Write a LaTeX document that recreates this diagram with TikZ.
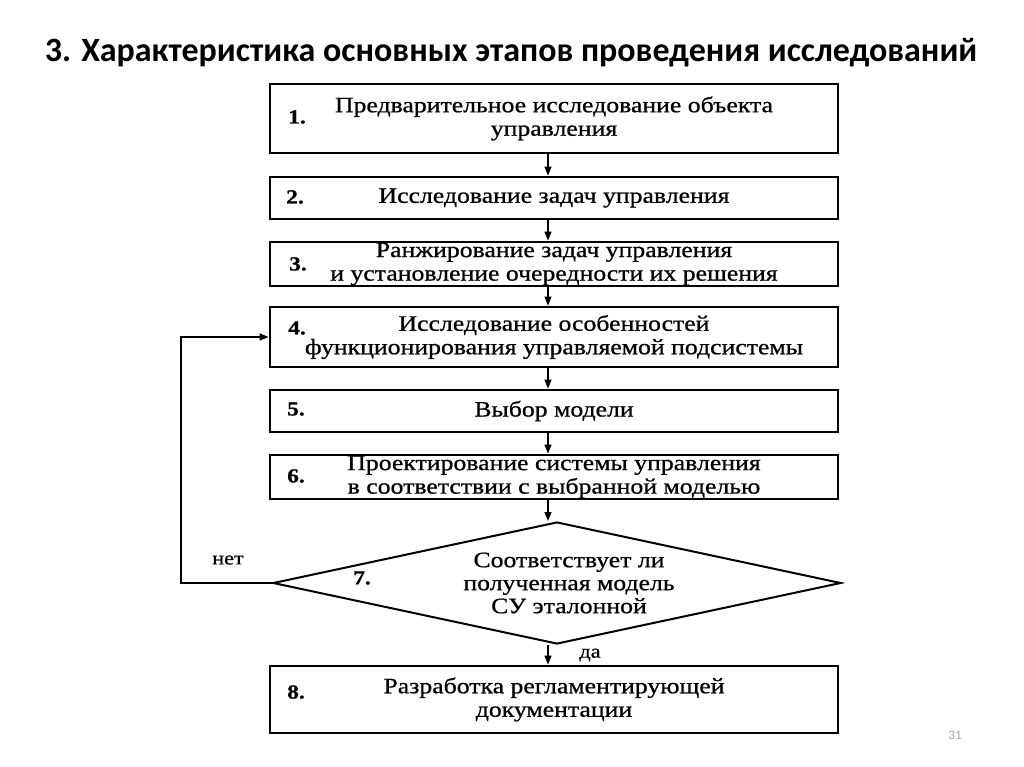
\documentclass[tikz,border=0pt]{standalone}
\usepackage{fontspec}
\setmainfont{Liberation Serif}
\newfontfamily\titlefont{Carlito}
\newfontfamily\boxfont[FakeStretch=1.17,FakeBold=0.8]{Liberation Serif}
\usetikzlibrary{shapes.geometric}
\usetikzlibrary{arrows.meta}

\tikzset{
  stage/.style={draw, line width=2.8pt, minimum width=568pt, inner sep=0pt,
    align=center, font=\boxfont\fontsize{22}{23.5}\selectfont},
  num/.style={inner sep=0pt, font=\boxfont\bfseries\fontsize{20}{20}\selectfont},
  flow/.style={line width=1.3pt, -{Triangle[length=9pt,width=7pt]}},
}

\begin{document}
\begin{tikzpicture}[x=1pt,y=-1pt]
    \useasboundingbox (0,0) rectangle (1024,767);
    \node[font=\titlefont\bfseries\fontsize{34}{34}\selectfont] (title) at (511,53)
      {3. Характеристика основных этапов проведения исследований};

    % stages
    \node[stage, minimum height=69pt] (b1) at (554,118.5)
      {Предварительное исследование объекта\\управления};
    \node[stage, minimum height=42pt] (b2) at (554,198)
      {Исследование задач управления};
    \node[stage, minimum height=44pt] (b3) at (554,264)
      {Ранжирование задач управления\\и установление очередности их решения};
    \node[stage, minimum height=60pt] (b4) at (554,337)
      {Исследование особенностей\\функционирования управляемой подсистемы};
    \node[stage, minimum height=42pt] (b5) at (554,411)
      {Выбор модели};
    \node[stage, minimum height=44pt] (b6) at (554,477)
      {Проектирование системы управления\\в соответствии с выбранной моделью};
    \node[draw, diamond, line width=2pt, minimum width=568pt, minimum height=122pt,
      inner sep=0pt] (d7) at (557,583) {};
    \node[align=center, inner sep=0pt, font=\boxfont\fontsize{22}{23}\selectfont] (q7)
      at (569,583) {Соответствует ли\\полученная модель\\СУ эталонной};
    \node[stage, minimum height=67pt] (b8) at (554,699.5)
      {Разработка регламентирующей\\документации};

    % numbers
    \node[num] (n1) at (297,117) {1.};
    \node[num] (n2) at (295,197) {2.};
    \node[num] (n3) at (298,264) {3.};
    \node[num] (n4) at (297,328) {4.};
    \node[num] (n5) at (296,409) {5.};
    \node[num] (n6) at (296,476) {6.};
    \node[num] (n7) at (362,578) {7.};
    \node[num] (n8) at (296,692) {8.};

    % connectors
    \coordinate (axis) at (548,0);
    \foreach \a/\b in {b1/b2,b2/b3,b3/b4,b4/b5,b5/b6,b6/d7,d7/b8}
      \draw[flow] (\a.south -| axis) -- (\b.north -| axis);
    \coordinate (loop) at (181,337);
    \draw[flow] (d7.west) -| (loop) -- (b4.west);
    \node[font=\boxfont\fontsize{19}{19}\selectfont] (no) at (228,560) {нет};
    \node[font=\boxfont\fontsize{19}{19}\selectfont] (yes) at (590,655) {да};

    \node[text=gray!70, font=\titlefont\fontsize{13}{13}\selectfont] (page) at (955,735) {31};
\end{tikzpicture}
\end{document}
